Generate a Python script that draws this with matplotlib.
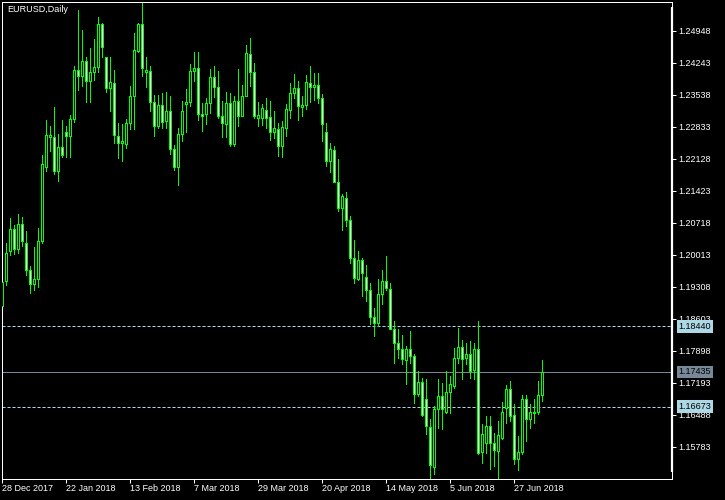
import matplotlib
matplotlib.use("Agg")
import matplotlib.pyplot as plt
import numpy as np

plt.rcParams['font.family'] = ['Liberation Sans', 'DejaVu Sans']
plt.rcParams['lines.scale_dashes'] = False

symbol_title = "EURUSD,Daily"

opens = [1.1889, 1.1943, 1.2009, 1.2058, 1.2015, 1.2070, 1.2027, 1.1968, 1.1937, 1.1948,
         1.2031, 1.2194, 1.2261, 1.2260, 1.2185, 1.2238, 1.2271, 1.2262, 1.2300, 1.2408,
         1.2394, 1.2428, 1.2383, 1.2403, 1.2414, 1.2510, 1.2436, 1.2368, 1.2379, 1.2263,
         1.2247, 1.2246, 1.2291, 1.2350, 1.2451, 1.2510, 1.2403, 1.2407, 1.2337, 1.2284,
         1.2331, 1.2295, 1.2318, 1.2234, 1.2194, 1.2267, 1.2333, 1.2337, 1.2405, 1.2412,
         1.2311, 1.2311, 1.2335, 1.2392, 1.2370, 1.2306, 1.2290, 1.2335, 1.2245, 1.2339,
         1.2306, 1.2350, 1.2443, 1.2403, 1.2302, 1.2302, 1.2320, 1.2304, 1.2271, 1.2278,
         1.2240, 1.2280, 1.2320, 1.2357, 1.2368, 1.2326, 1.2331, 1.2379, 1.2370, 1.2375,
         1.2346, 1.2271, 1.2209, 1.2233, 1.2161, 1.2104, 1.2126, 1.2079, 1.1994, 1.1949,
         1.1991, 1.1953, 1.1923, 1.1865, 1.1851, 1.1916, 1.1944, 1.1926, 1.1838, 1.1808,
         1.1794, 1.1769, 1.1793, 1.1778, 1.1695, 1.1721, 1.1683, 1.1623, 1.1534, 1.1661,
         1.1690, 1.1655, 1.1699, 1.1712, 1.1775, 1.1799, 1.1775, 1.1784, 1.1747, 1.1793,
         1.1567, 1.1588, 1.1624, 1.1588, 1.1569, 1.1599, 1.1665, 1.1705, 1.1648, 1.1551,
         1.1567, 1.1685, 1.1640, 1.1654, 1.1655, 1.1692]
highs = [1.1945, 1.2027, 1.2082, 1.2068, 1.2092, 1.2085, 1.2053, 1.1977, 1.2019, 1.2061,
         1.2222, 1.2298, 1.2285, 1.2326, 1.2267, 1.2298, 1.2284, 1.2309, 1.2416, 1.2540,
         1.2496, 1.2438, 1.2456, 1.2476, 1.2526, 1.2511, 1.2438, 1.2436, 1.2408, 1.2291,
         1.2290, 1.2300, 1.2373, 1.2489, 1.2512, 1.2555, 1.2438, 1.2416, 1.2353, 1.2353,
         1.2357, 1.2359, 1.2350, 1.2244, 1.2280, 1.2339, 1.2366, 1.2422, 1.2449, 1.2449,
         1.2335, 1.2346, 1.2410, 1.2416, 1.2406, 1.2339, 1.2359, 1.2357, 1.2350, 1.2410,
         1.2375, 1.2463, 1.2478, 1.2423, 1.2337, 1.2334, 1.2346, 1.2339, 1.2317, 1.2291,
         1.2295, 1.2334, 1.2379, 1.2400, 1.2383, 1.2350, 1.2397, 1.2416, 1.2401, 1.2401,
         1.2355, 1.2291, 1.2247, 1.2240, 1.2212, 1.2135, 1.2139, 1.2086, 1.2035, 1.2010,
         1.1994, 1.1980, 1.1939, 1.1884, 1.1948, 1.1969, 1.1998, 1.1939, 1.1855, 1.1837,
         1.1824, 1.1800, 1.1833, 1.1782, 1.1745, 1.1731, 1.1727, 1.1640, 1.1668, 1.1727,
         1.1720, 1.1745, 1.1734, 1.1797, 1.1841, 1.1813, 1.1807, 1.1811, 1.1807, 1.1855,
         1.1628, 1.1646, 1.1646, 1.1610, 1.1635, 1.1677, 1.1714, 1.1723, 1.1673, 1.1602,
         1.1692, 1.1692, 1.1674, 1.1683, 1.1723, 1.1769]
lows = [1.1885, 1.1936, 1.2000, 1.2003, 1.2005, 1.2020, 1.1958, 1.1917, 1.1925, 1.1930,
        1.2028, 1.2186, 1.2229, 1.2179, 1.2164, 1.2216, 1.2216, 1.2216, 1.2293, 1.2364,
        1.2373, 1.2337, 1.2337, 1.2386, 1.2403, 1.2438, 1.2359, 1.2317, 1.2247, 1.2214,
        1.2207, 1.2236, 1.2278, 1.2278, 1.2447, 1.2394, 1.2370, 1.2319, 1.2262, 1.2280,
        1.2280, 1.2280, 1.2224, 1.2189, 1.2156, 1.2253, 1.2271, 1.2328, 1.2385, 1.2299,
        1.2273, 1.2290, 1.2313, 1.2348, 1.2302, 1.2260, 1.2260, 1.2240, 1.2240, 1.2285,
        1.2306, 1.2350, 1.2372, 1.2302, 1.2284, 1.2288, 1.2280, 1.2255, 1.2258, 1.2219,
        1.2216, 1.2262, 1.2302, 1.2346, 1.2299, 1.2307, 1.2322, 1.2337, 1.2342, 1.2335,
        1.2251, 1.2197, 1.2183, 1.2161, 1.2097, 1.2055, 1.2064, 1.1983, 1.1939, 1.1947,
        1.1910, 1.1899, 1.1848, 1.1822, 1.1844, 1.1892, 1.1925, 1.1837, 1.1764, 1.1775,
        1.1760, 1.1716, 1.1764, 1.1676, 1.1690, 1.1646, 1.1606, 1.1511, 1.1518, 1.1621,
        1.1618, 1.1654, 1.1654, 1.1709, 1.1764, 1.1728, 1.1760, 1.1731, 1.1727, 1.1562,
        1.1542, 1.1566, 1.1530, 1.1536, 1.1508, 1.1596, 1.1630, 1.1635, 1.1540, 1.1527,
        1.1562, 1.1591, 1.1619, 1.1630, 1.1650, 1.1679]
closes = [1.1942, 1.2005, 1.2058, 1.2015, 1.2070, 1.2032, 1.1968, 1.1937, 1.1948, 1.2032,
          1.2202, 1.2266, 1.2266, 1.2186, 1.2238, 1.2222, 1.2262, 1.2300, 1.2408, 1.2394,
          1.2428, 1.2383, 1.2403, 1.2414, 1.2510, 1.2458, 1.2368, 1.2381, 1.2266, 1.2247,
          1.2252, 1.2291, 1.2352, 1.2452, 1.2510, 1.2412, 1.2408, 1.2337, 1.2284, 1.2331,
          1.2293, 1.2319, 1.2234, 1.2194, 1.2267, 1.2319, 1.2337, 1.2405, 1.2412, 1.2311,
          1.2306, 1.2335, 1.2392, 1.2370, 1.2306, 1.2291, 1.2335, 1.2245, 1.2339, 1.2306,
          1.2352, 1.2445, 1.2403, 1.2308, 1.2309, 1.2324, 1.2302, 1.2271, 1.2280, 1.2240,
          1.2282, 1.2322, 1.2357, 1.2368, 1.2328, 1.2331, 1.2381, 1.2370, 1.2375, 1.2346,
          1.2289, 1.2209, 1.2234, 1.2161, 1.2104, 1.2130, 1.2079, 1.1994, 1.1950, 1.1991,
          1.1961, 1.1923, 1.1865, 1.1851, 1.1916, 1.1944, 1.1928, 1.1838, 1.1808, 1.1794,
          1.1772, 1.1793, 1.1778, 1.1695, 1.1721, 1.1648, 1.1624, 1.1538, 1.1662, 1.1690,
          1.1661, 1.1699, 1.1717, 1.1775, 1.1799, 1.1771, 1.1784, 1.1745, 1.1793, 1.1566,
          1.1607, 1.1624, 1.1588, 1.1571, 1.1604, 1.1656, 1.1705, 1.1646, 1.1551, 1.1568,
          1.1685, 1.1640, 1.1656, 1.1656, 1.1692, 1.17435]

date_tick_bars = [0, 16, 32, 48, 64, 80, 96, 112, 128]
date_tick_labels = ["28 Dec 2017", "22 Jan 2018", "13 Feb 2018", "7 Mar 2018", "29 Mar 2018",
                    "20 Apr 2018", "14 May 2018", "5 Jun 2018", "27 Jun 2018"]
price_ticks = [1.15783, 1.16488, 1.17193, 1.17898, 1.18603, 1.19308, 1.20013, 1.20718,
               1.21423, 1.22128, 1.22833, 1.23538, 1.24243, 1.24948]
level_upper = 1.18440
level_bid = 1.17435
level_lower = 1.16673

W, H = 725, 500
fig = plt.figure(figsize=(W / 100, H / 100), dpi=100, facecolor='black')
ax = fig.add_axes([2 / W, 21 / H, 670 / W, 477 / H], facecolor='black')

O = np.array(opens); Hh = np.array(highs); L = np.array(lows); C = np.array(closes)
x = np.arange(len(O))
lime = '#00FF00'
px = 0.72

ax.vlines(x, L, Hh, colors=lime, lw=px, antialiased=False, zorder=2)
bottoms = np.minimum(O, C)
heights = np.maximum(np.abs(C - O), 0.00002)
fills = ['white' if c < o else 'black' for o, c in zip(O, C)]
ax.bar(x, heights, bottom=bottoms, width=0.5, color=fills, edgecolor=lime,
       linewidth=px, zorder=3, antialiased=False)

ax.set_xlim(0, 167.5)
ax.set_ylim(1.15078, 1.25580)

lb = '#ADD8E6'
sg = '#778899'
ax.axhline(level_upper, color=lb, lw=px, dashes=(2.2, 1.4), zorder=1)
ax.axhline(level_lower, color=lb, lw=px, dashes=(2.2, 1.4), zorder=1)
ax.axhline(level_bid, color=sg, lw=px, zorder=1)

for s in ax.spines.values():
    s.set_color('white')
    s.set_linewidth(px)

ax.plot([1, 1], [7 / 477 * 0 + (479 - 472) / 477, (479 - 7) / 477], transform=ax.transAxes,
        color='white', lw=1.6, clip_on=False, zorder=5, solid_capstyle='butt')

ax.yaxis.tick_right()
ax.set_yticks(price_ticks)
ax.set_yticklabels([f"{p:.5f}" for p in price_ticks])
ax.tick_params(axis='y', colors='white', length=2.9, width=px, pad=1.4, labelsize=6.5,
               direction='out')
ax.set_xticks(date_tick_bars)
ax.set_xticklabels(date_tick_labels)
ax.tick_params(axis='x', colors='white', length=2.9, width=px, pad=1.0, labelsize=6.5,
               direction='out')
for t in ax.get_xticklabels():
    t.set_ha('left')

for lvl, col in [(level_upper, lb), (level_bid, sg), (level_lower, lb)]:
    ax.annotate(f"{lvl:.5f}", xy=(1, lvl), xycoords=('axes fraction', 'data'),
                xytext=(4.6, 0), textcoords='offset points', va='center', ha='left',
                fontsize=6.5, color='black', annotation_clip=False, zorder=10,
                bbox=dict(boxstyle='square,pad=0.2', fc=col, ec='none'))

fig.text(7 / W, 1 - 9.5 / H, symbol_title, color='white', fontsize=6.5, va='center', ha='left')

fig.savefig('out.png', dpi=100, facecolor='black')
